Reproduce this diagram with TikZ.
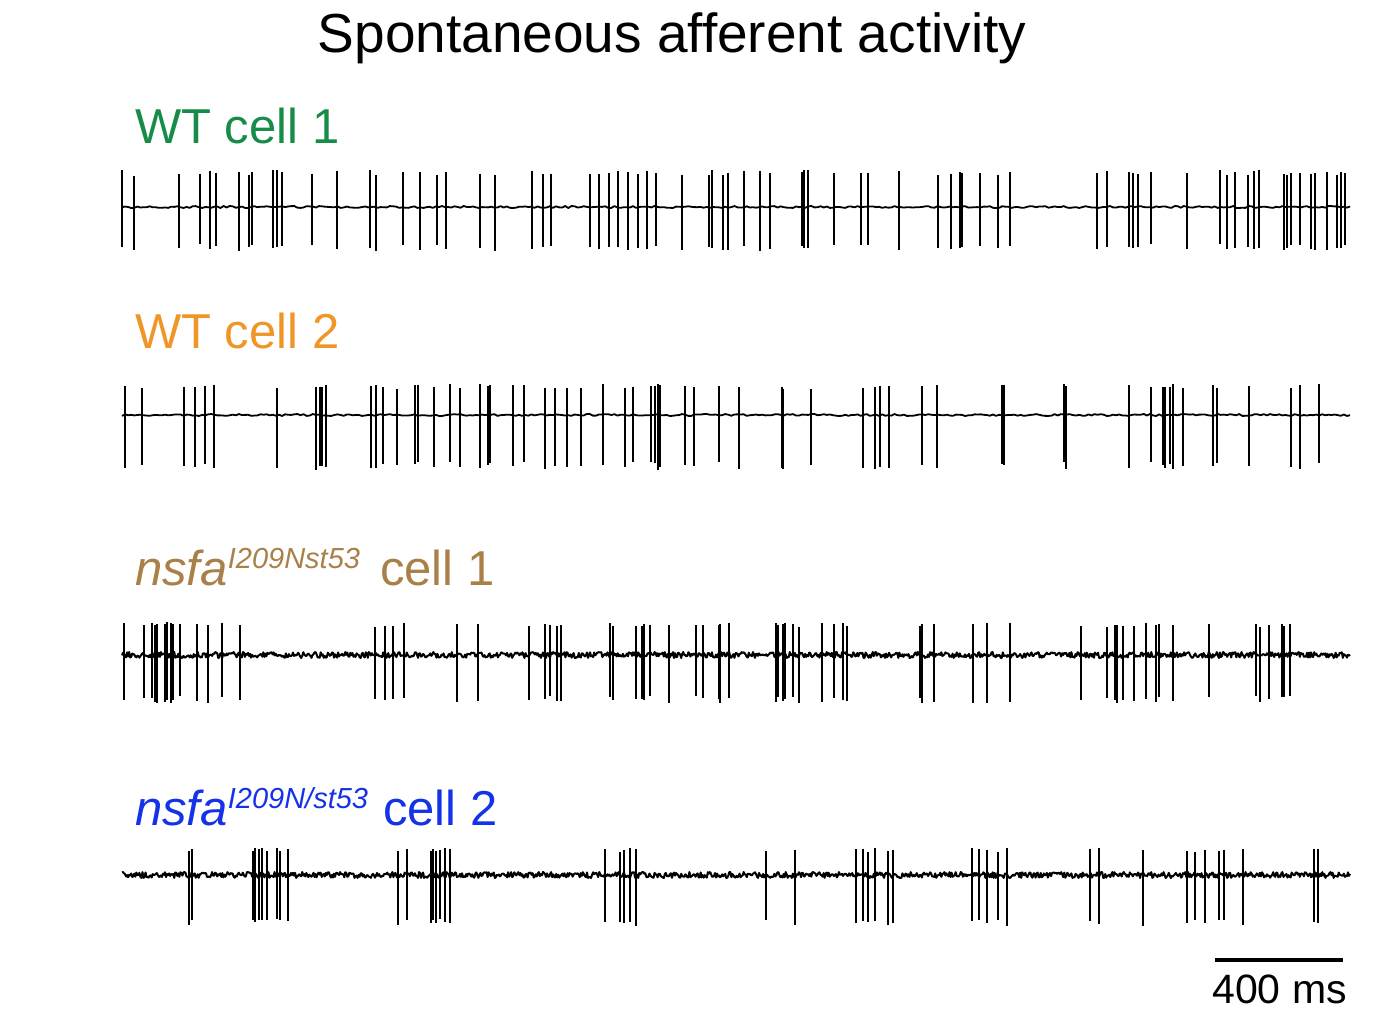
\documentclass[tikz,border=0pt]{standalone}
\usepackage{fontspec}
\setmainfont{Liberation Sans}
\definecolor{wtgreen}{RGB}{22,140,72}
\definecolor{wtorange}{RGB}{240,150,40}
\definecolor{mutbrown}{RGB}{168,128,72}
\definecolor{mutblue}{RGB}{20,50,232}
\tikzset{
    trace/.style = {line width=1.8pt, line join=round},
    noisy/.style = {line width=2pt, line join=round},
    spike/.style = {line width=1.5pt},
    label/.style = {anchor=base west, inner sep=0pt, font=\fontsize{49}{53}\selectfont}
}
% smaller raised allele name
\newcommand{\allele}[1]{\raisebox{17pt}{\fontsize{29}{31}\selectfont #1}}
% one spike per listed time, from the top to the bottom of the trace
\newcommand{\spikes}[4]{%
    \foreach \t in {#4} {
        \pgfmathsetmacro{\up}{#2*(0.85+0.15*rnd)}
        \pgfmathsetmacro{\dn}{#3*(0.85+0.15*rnd)}
        \draw[spike] (\t,#1-\up) -- (\t,#1+\dn);
    }}
\begin{document}
\begin{tikzpicture}[x=1pt,y=-1pt]
    \useasboundingbox (0,0) rectangle (1392,1020);
    \pgfmathsetseed{7}
    \node[anchor=base, inner sep=0pt, font=\fontsize{55}{59}\selectfont] (title) at (672,52) {Spontaneous afferent activity};

    % WT cell 1
    \node[label, text=wtgreen] (lab1) at (135,143) {WT cell 1};
    \draw[trace] plot[domain=122:1350, samples=400] (\x, {207+1*rand});
    \spikes{207}{37}{44}{122,134,179,200,210,216,239,249,252,273,277,282,312,337,370,376,403,420,437,446,480,495,532,543,551,590,599,609,618,628,638,647,656,682,709,712,723,
        728,744,760,770,802,804,808,834,861,868,899,938,951,960,962,980,998,1010,1097,1107,1129,1133,1138,1151,1187,1220,1227,1235,1248,1254,1259,1284,1287,1291,1300,1311,1315,1327,1337,1341,1345}

    % WT cell 2
    \node[label, text=wtorange] (lab2) at (135,348) {WT cell 2};
    \draw[trace] plot[domain=122:1350, samples=400] (\x, {415+1*rand});
    \spikes{415}{31}{55}{125,142,184,195,205,214,277,316,320,322,326,371,376,383,397,415,418,434,450,460,480,488,490,513,524,545,555,567,581,603,625,633,651,655,658,660,685,694,719,
        739,782,783,811,863,875,880,889,922,937,1002,1004,1064,1066,1129,1151,1163,1165,1170,1173,1183,1213,1217,1249,1291,1300,1319}

    % nsfa cell 1
    \node[label, text=mutbrown] (lab3) at (135,585) {\itshape nsfa\allele{I209Nst53}\upshape\hspace{20pt}cell 1};
    \draw[noisy] plot[domain=122:1350, samples=1200] (\x, {655+3*rand});
    \spikes{655}{33}{48}{124,144,152,155,157,165,167,171,173,180,197,208,222,240,375,385,393,404,457,478,529,545,550,557,561,610,613,636,642,644,650,669,696,703,719,
        720,729,776,778,783,785,793,799,822,834,843,847,920,922,934,973,987,1010,1081,1107,1115,1117,1123,1134,1146,1156,1159,1173,1209,1256,1260,1269,1282,1284,1290}

    % nsfa cell 2
    \node[label, text=mutblue] (lab4) at (135,825) {\itshape nsfa\allele{I209N/st53}\upshape\hspace{15pt}cell 2};
    \draw[noisy] plot[domain=122:1350, samples=1200] (\x, {875+3*rand});
    \spikes{875}{27}{52}{189,192,253,255,259,262,267,277,280,288,398,407,431,433,436,440,445,450,605,620,624,630,636,
        766,795,856,863,868,875,888,893,972,979,987,998,1007,1090,1099,1143,1187,1195,1205,1219,1224,1243,1314,1318}

    % scale bar
    \coordinate (bar0) at (1215,960);
    \coordinate (bar1) at (1343,960);
    \draw[line width=4pt] (bar0) -- (bar1);
    \node[anchor=base east, inner sep=0pt, font=\fontsize{41}{45}\selectfont] (barlab) at (1347,1003) {400 ms};
\end{tikzpicture}
\end{document}
